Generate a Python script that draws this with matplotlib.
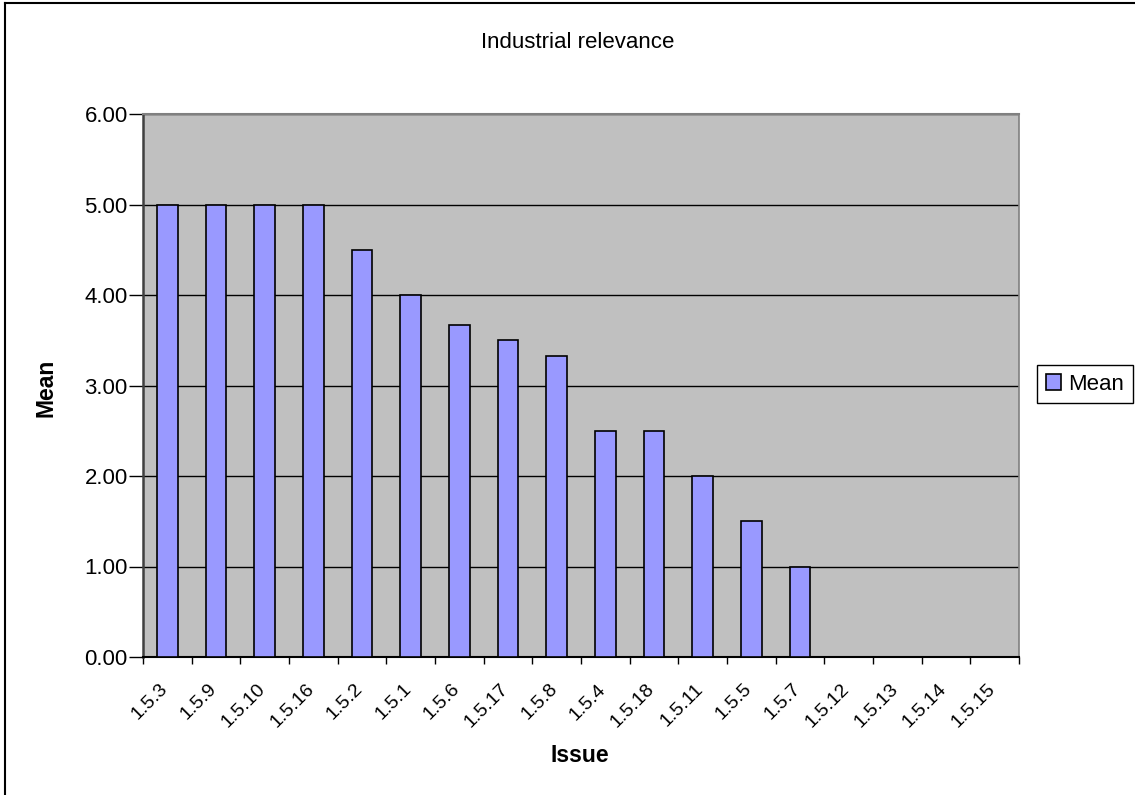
import matplotlib
matplotlib.use('Agg')
import matplotlib.pyplot as plt
import matplotlib.transforms as mtrans
from matplotlib.lines import Line2D
import numpy as np

plt.rcParams['font.family'] = ['Liberation Sans', 'DejaVu Sans']

issues = ['1.5.3', '1.5.9', '1.5.10', '1.5.16', '1.5.2', '1.5.1', '1.5.6', '1.5.17', '1.5.8',
          '1.5.4', '1.5.18', '1.5.11', '1.5.5', '1.5.7', '1.5.12', '1.5.13', '1.5.14', '1.5.15']
means = [5.0, 5.0, 5.0, 5.0, 4.5, 4.0, 3.67, 3.5, 3.33,
         2.5, 2.5, 2.0, 1.5, 1.0, 0.0, 0.0, 0.0, 0.0]
yticks = [0, 1, 2, 3, 4, 5, 6]

fig = plt.figure(figsize=(11.35, 7.95), dpi=100)
ax = fig.add_axes([143/1135, 1-657/795, 876/1135, 543/795])
ax.set_facecolor('#C0C0C0')

x = np.arange(len(issues)) + 0.5
bars = ax.bar(x, means, width=0.43, color='#9999FF', edgecolor='black', linewidth=1.2,
              label='Mean', zorder=3)
# empty categories have no bar drawn
for b, v in zip(bars, means):
    if v == 0:
        b.set_visible(False)

ax.set_xlim(0, len(issues))
ax.set_ylim(0, 6)
ax.set_yticks(yticks)
ax.set_yticklabels(['%.2f' % t for t in yticks], fontsize=16)
ax.tick_params(axis='y', length=10, width=1, pad=1, direction='out')
ax.yaxis.grid(True, color='black', linewidth=1, zorder=1)
ax.set_axisbelow(True)

ax.set_xticks(x)
ax.set_xticklabels(issues, fontsize=14, rotation=45, ha='right', rotation_mode='anchor')
ax.set_xticks(np.arange(len(issues) + 1), minor=True)
ax.tick_params(axis='x', which='major', length=0, pad=17)
ax.tick_params(axis='x', which='minor', length=5, width=1, direction='out')
offset = mtrans.ScaledTranslation(-8/100, 0, fig.dpi_scale_trans)
for lab in ax.get_xticklabels():
    lab.set_transform(lab.get_transform() + offset)

ax.spines['left'].set_color('#404040')
ax.spines['left'].set_linewidth(1.8)
ax.spines['bottom'].set_color('black')
ax.spines['bottom'].set_linewidth(1.5)
ax.spines['top'].set_color('#808080')
ax.spines['top'].set_linewidth(1.5)
ax.spines['right'].set_color('#808080')
ax.spines['right'].set_linewidth(1.2)

fig.text(578/1135, 1-42/795, 'Industrial relevance', fontsize=16, ha='center', va='center')
fig.text(46.5/1135, 1-388/795, 'Mean', fontsize=16.5, fontweight='bold', rotation=90,
         ha='center', va='center')
fig.text(580/1135, 1-755/795, 'Issue', fontsize=16.5, fontweight='bold', ha='center', va='center')

leg = fig.legend(loc='center left', bbox_to_anchor=(1037/1135, 1-384/795), fontsize=16,
                 frameon=True, fancybox=False, edgecolor='black', framealpha=1,
                 handlelength=0.7, handleheight=0.7, handletextpad=0.3, borderpad=0.4,
                 borderaxespad=0)
leg.get_frame().set_linewidth(1)

# chart border (only top and left visible in the crop)
fig.add_artist(Line2D([5/1135, 5/1135], [0, 1-3/795], color='black', linewidth=1.5,
                      transform=fig.transFigure))
fig.add_artist(Line2D([5/1135, 1], [1-3/795, 1-3/795], color='black', linewidth=1.5,
                      transform=fig.transFigure))

fig.savefig('out.png', dpi=100)
